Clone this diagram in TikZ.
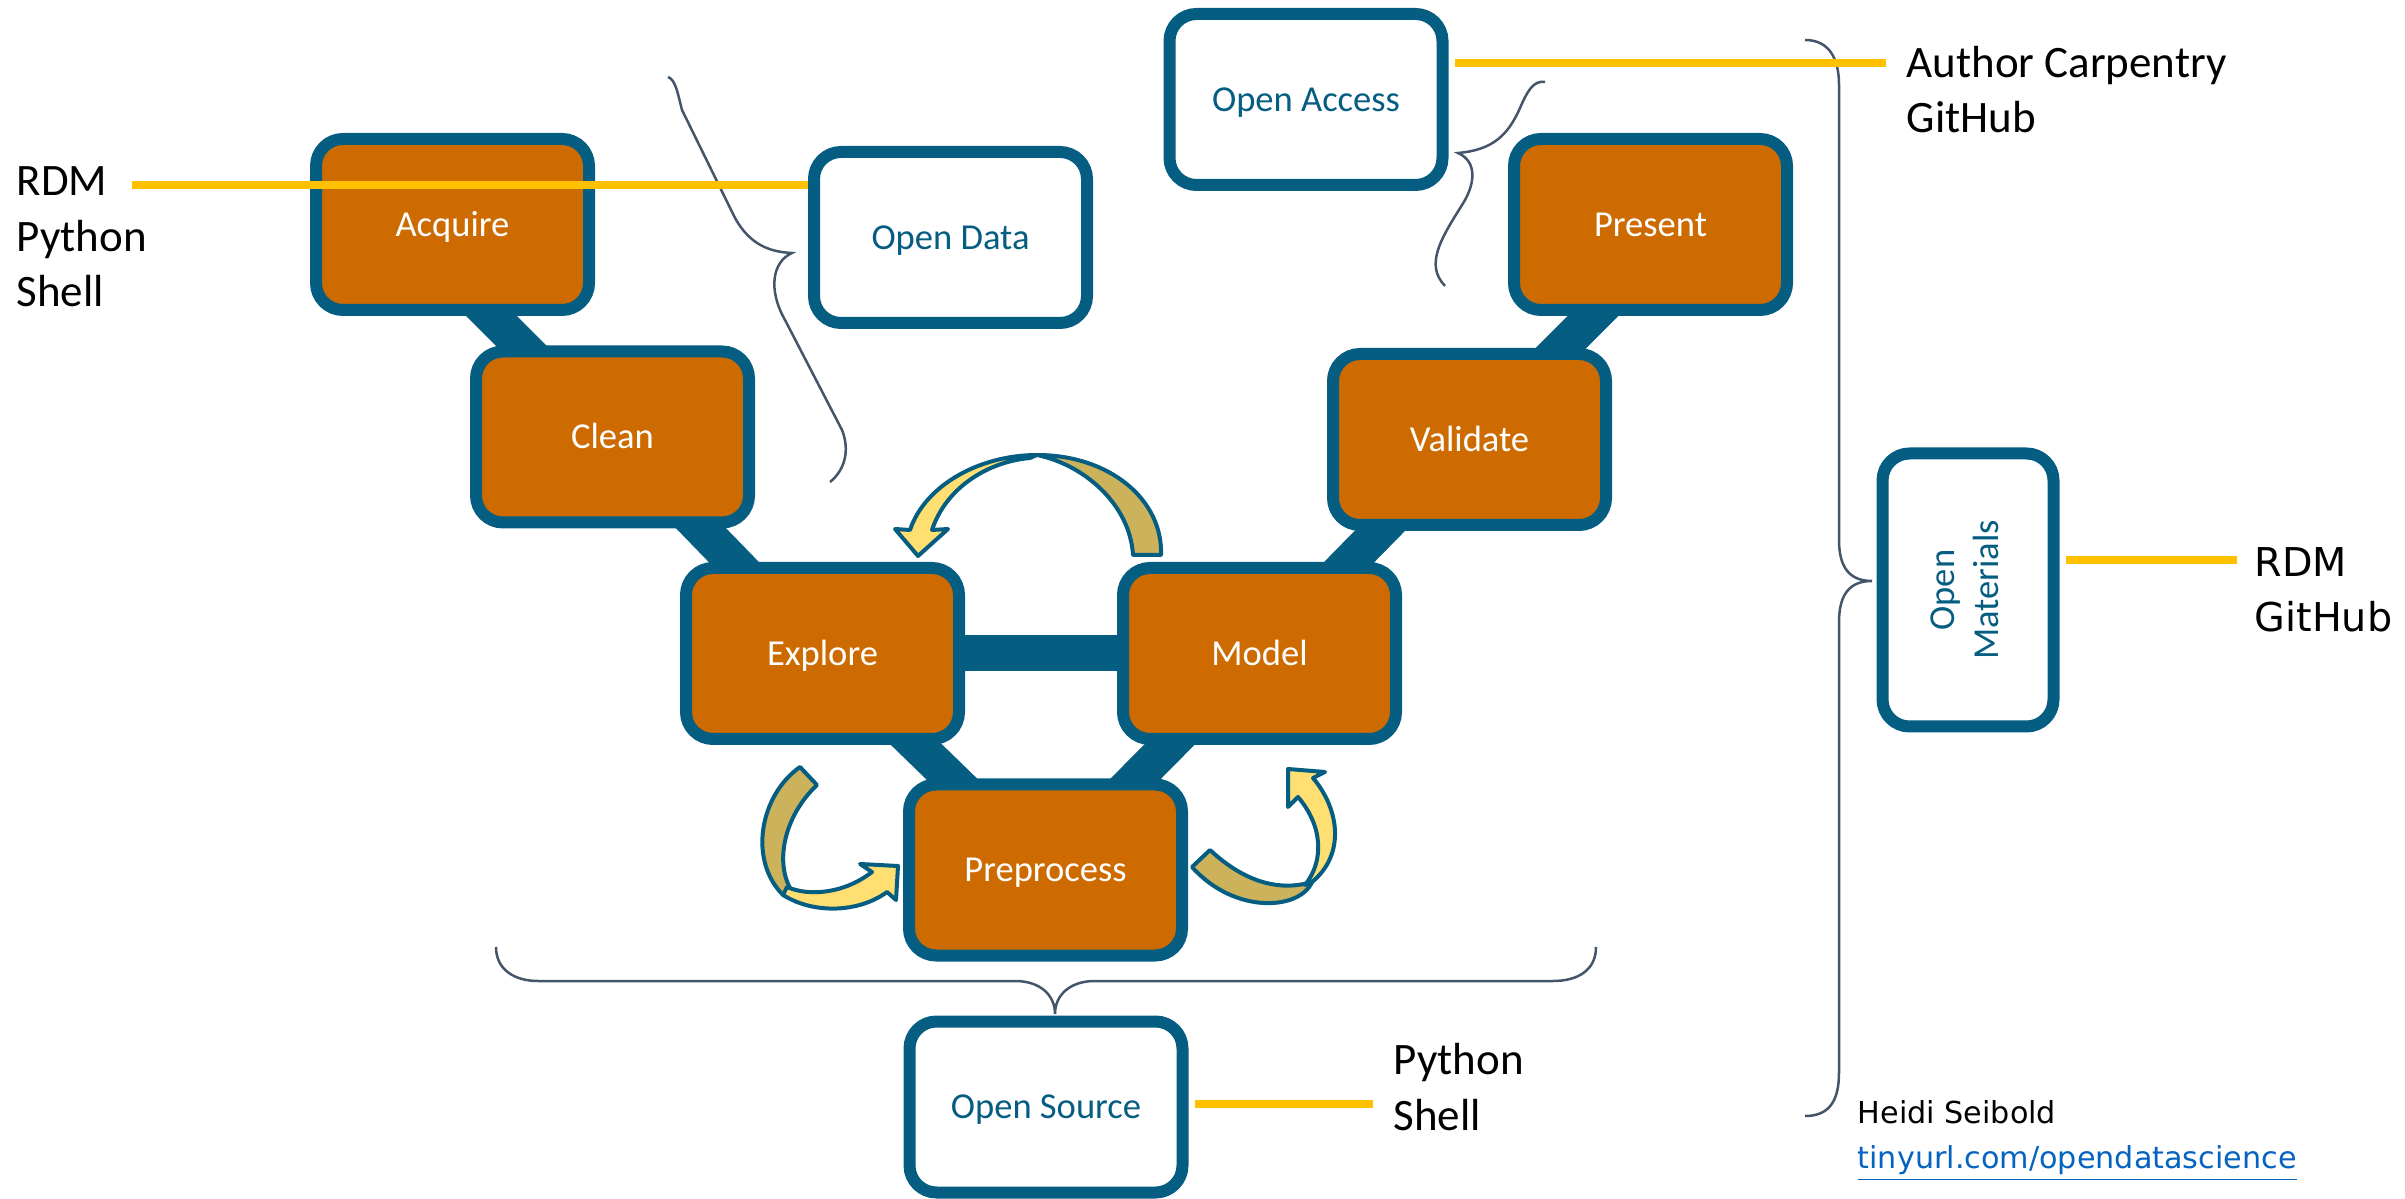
\documentclass[tikz,border=0pt]{standalone}
\usepackage{fontspec}
\usepackage{graphicx}
\usetikzlibrary{backgrounds}
\newfontfamily\stagefont{Carlito}
\newfontfamily\notefont{DejaVu Sans}
\definecolor{dsblue}{HTML}{065D82}
\definecolor{dsorange}{HTML}{CE6B00}
\definecolor{dsyellow}{HTML}{FFC000}
\definecolor{dsslate}{HTML}{44546A}
\definecolor{dslight}{HTML}{FFDF71}
\definecolor{dstan}{HTML}{CCB35B}
\definecolor{dslink}{HTML}{0563C1}

\begin{document}
\begin{tikzpicture}[
        box/.style={draw=dsblue, line width=0.12cm, rounded corners=0.27cm,
            minimum width=2.73cm, minimum height=1.71cm,
            font=\stagefont\fontsize{10.4}{12.5}\selectfont},
        stage/.style={box, fill=dsorange, text=white, text height=6.7pt, text depth=0pt},
        openbox/.style={box, fill=white, text=dsblue, text height=6.7pt, text depth=0pt},
        bar/.style={draw=dsblue, line width=0.36cm},
        hook/.style={draw=dsyellow, line width=0.08cm},
        brace/.style={draw=dsslate, line width=0.025cm},
        loop/.style={draw=dsblue, line width=0.04cm, line join=round},
        tag/.style={inner sep=0pt, align=left, font=\stagefont\fontsize{12.8}{15.9}\selectfont},
        note/.style={inner sep=0pt, align=left, font=\notefont\fontsize{11.3}{15.9}\selectfont},
        credit/.style={inner sep=0pt, align=left, font=\notefont\fontsize{8.6}{12.8}\selectfont}
    ]
        \useasboundingbox (0,0) rectangle (24.05,-11.99);

        \node[stage] (Acquire) at (4.525,-2.245) {
            Acquire
        };
        \node[stage] (Clean) at (6.125,-4.37) {
            Clean
        };
        \node[stage] (Explore) at (8.225,-6.535) {
            Explore
        };
        \node[stage] (Preprocess) at (10.455,-8.70) {
            Preprocess
        };
        \node[stage] (Model) at (12.595,-6.535) {
            Model
        };
        \node[stage] (Validate) at (14.695,-4.395) {
            Validate
        };
        \node[stage] (Present) at (16.505,-2.245) {
            Present
        };
        \node[openbox] (OpenData) at (9.505,-2.375) {
            Open Data
        };
        \node[openbox] (OpenAccess) at (13.06,-0.995) {
            Open Access
        };
        \node[openbox] (OpenSource) at (10.46,-11.07) {
            Open Source
        };
        \node[box, fill=white, text=dsblue, minimum width=1.71cm, minimum height=2.73cm] (OpenMaterials) at (19.68,-5.90) {
            \rotatebox{90}{\begin{tabular}{@{}c@{}}Open\\Materials\end{tabular}}
        };

        \path (Clean.center) ++(135:3) coordinate (AcquireLink);
        \path (Validate.center) ++(45:3.05) coordinate (PresentLink);
        \begin{scope}[on background layer]
            \draw[bar] (AcquireLink) -- (Clean.center);
            \draw[bar] (Clean.center) -- (Explore.center);
            \draw[bar] (Explore.center) -- (Preprocess.center);
            \draw[bar] (Preprocess.center) -- (Model.center);
            \draw[bar] (Model.center) -- (Validate.center);
            \draw[bar] (Validate.center) -- (PresentLink);
            \draw[bar] (Explore.center) -- (Model.center);
        \end{scope}

        \draw[loop, fill=dstan] (11.33,-5.55) -- (11.61,-5.55) .. controls (11.63,-5.00) and (11.10,-4.55) .. (10.37,-4.55)
            .. controls (10.85,-4.65) and (11.30,-5.05) .. (11.33,-5.55) -- cycle;
        \draw[loop, fill=dslight] (10.37,-4.55) .. controls (9.80,-4.55) and (9.25,-4.85) .. (9.10,-5.30)
            -- (8.95,-5.29) -- (9.18,-5.56) -- (9.48,-5.29) -- (9.32,-5.30)
            .. controls (9.45,-4.90) and (9.85,-4.62) .. (10.30,-4.58) -- cycle;

        \draw[loop, fill=dstan] (8.00,-7.67) .. controls (7.60,-7.95) and (7.48,-8.60) .. (7.83,-8.95) -- (7.90,-8.88)
            .. controls (7.75,-8.60) and (7.85,-8.15) .. (8.17,-7.85) -- cycle;
        \draw[loop, fill=dslight] (7.87,-8.87) .. controls (8.10,-8.97) and (8.45,-8.93) .. (8.72,-8.72)
            -- (8.60,-8.64) -- (8.98,-8.66) -- (8.96,-9.00) -- (8.87,-8.92)
            .. controls (8.60,-9.12) and (8.15,-9.15) .. (7.83,-8.95) -- cycle;

        \draw[loop, fill=dstan] (11.92,-8.67) -- (12.10,-8.50) .. controls (12.40,-8.78) and (12.75,-8.93) .. (13.12,-8.82)
            .. controls (13.00,-9.10) and (12.35,-9.15) .. (11.92,-8.67) -- cycle;
        \draw[loop, fill=dslight] (13.05,-8.85) .. controls (13.25,-8.60) and (13.22,-8.25) .. (12.98,-7.97)
            -- (12.88,-8.07) -- (12.88,-7.69) -- (13.25,-7.72) -- (13.13,-7.78)
            .. controls (13.40,-8.10) and (13.45,-8.55) .. (13.12,-8.82) -- cycle;

        \draw[brace] (6.68,-0.77) .. controls (6.76,-0.80) and (6.78,-0.95) .. (6.82,-1.10) -- (7.35,-2.18)
            .. controls (7.50,-2.45) and (7.70,-2.52) .. (7.92,-2.53)
            .. controls (7.72,-2.62) and (7.68,-2.90) .. (7.85,-3.20) -- (8.42,-4.30)
            .. controls (8.50,-4.50) and (8.45,-4.70) .. (8.30,-4.82);
        \draw[brace] (15.45,-0.82) .. controls (15.33,-0.80) and (15.27,-0.92) .. (15.20,-1.08)
            .. controls (15.08,-1.35) and (14.93,-1.50) .. (14.58,-1.53)
            .. controls (14.78,-1.62) and (14.75,-1.85) .. (14.62,-2.05)
            .. controls (14.40,-2.40) and (14.25,-2.65) .. (14.45,-2.86);
        \draw[brace] (4.96,-9.47) .. controls (4.96,-9.70) and (5.15,-9.81) .. (5.38,-9.81) -- (10.15,-9.81)
            .. controls (10.40,-9.81) and (10.55,-9.95) .. (10.55,-10.14)
            .. controls (10.55,-9.95) and (10.70,-9.81) .. (10.95,-9.81) -- (15.53,-9.81)
            .. controls (15.78,-9.81) and (15.96,-9.70) .. (15.96,-9.47);
        \draw[brace] (18.05,-0.40) .. controls (18.30,-0.40) and (18.39,-0.60) .. (18.39,-0.85) -- (18.39,-5.40)
            .. controls (18.39,-5.68) and (18.50,-5.81) .. (18.72,-5.81)
            .. controls (18.50,-5.81) and (18.39,-5.94) .. (18.39,-6.22) -- (18.39,-10.72)
            .. controls (18.39,-11.00) and (18.30,-11.16) .. (18.05,-11.16);

        \node[tag, anchor=base west] (LeftTools) at (0.16,-3.07) {RDM\\Python\\Shell};
        \node[tag, anchor=base west] (AccessTools) at (19.06,-1.33) {Author Carpentry\\GitHub};
        \node[tag, anchor=base west] (SourceTools) at (13.93,-11.30) {Python\\Shell};
        \node[note, anchor=base west] (MaterialsTools) at (22.54,-6.32) {RDM\\GitHub};
        \node[credit, anchor=base west] (Credit) at (18.57,-11.68) {Heidi Seibold\\\textcolor{dslink}{\underline{tinyurl.com/opendatascience}}};

        \coordinate (RDMLink) at (1.32,-1.85);
        \coordinate (AuthorLink) at (18.86,-0.63);
        \coordinate (MaterialsLink) at (22.37,-5.60);
        \coordinate (SourceLink) at (13.73,-11.04);
        \draw[hook] (RDMLink) -- (RDMLink -| OpenData.west);
        \draw[hook, shorten <=0.06cm] (AuthorLink -| OpenAccess.east) -- (AuthorLink);
        \draw[hook, shorten <=0.06cm] (MaterialsLink -| OpenMaterials.east) -- (MaterialsLink);
        \draw[hook, shorten <=0.06cm] (SourceLink -| OpenSource.east) -- (SourceLink);
    \end{tikzpicture}
\end{document}
